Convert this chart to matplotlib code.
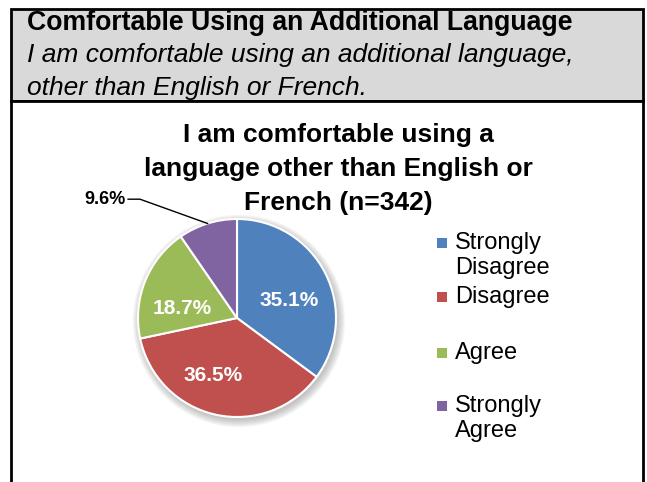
import matplotlib
matplotlib.use("Agg")
import matplotlib.pyplot as plt
from matplotlib.patches import Rectangle, Circle
import numpy as np

plt.rcParams['font.family'] = ['Liberation Sans', 'DejaVu Sans']

categories = ["Strongly\nDisagree", "Disagree", "Agree", "Strongly\nAgree"]
values = [35.1, 36.5, 18.7, 9.6]
colors = ["#4F81BD", "#C0504D", "#9BBB59", "#8064A2"]
header_title = "Comfortable Using an Additional Language"
header_sub = "I am comfortable using an additional language,\nother than English or French."
chart_title = "I am comfortable using a\nlanguage other than English or\nFrench (n=342)"

W, H = 647, 482
fig = plt.figure(figsize=(W / 100, H / 100), dpi=100)

def fx(x):
    return x / W

def fy(y):
    return 1 - y / H

# header box and body box
fig.add_artist(Rectangle((fx(11), fy(101)), fx(643) - fx(11), fy(9) - fy(101),
                         transform=fig.transFigure, facecolor="#D9D9D9",
                         edgecolor="black", linewidth=2, zorder=-2))
fig.add_artist(Rectangle((fx(11), fy(490)), fx(643) - fx(11), fy(101) - fy(490),
                         transform=fig.transFigure, facecolor="white",
                         edgecolor="black", linewidth=2, clip_on=False, zorder=-2))

fig.text(fx(27), fy(23), header_title, fontsize=19.2, fontweight="bold",
         va="center", ha="left")
fig.text(fx(27), fy(55), header_sub.split("\n")[0], fontsize=19, style="italic",
         va="center", ha="left")
fig.text(fx(27), fy(88), header_sub.split("\n")[1], fontsize=19, style="italic",
         va="center", ha="left")

for i, line in enumerate(chart_title.split("\n")):
    fig.text(fx(338), fy(135 + 34 * i), line, fontsize=19, fontweight="bold",
             va="center", ha="center")

# pie
cx, cy, r = 237, 318, 99
ax = fig.add_axes([fx(cx - r), fy(cy + r), 2 * r / W, 2 * r / H])
# soft shadow
for k in range(7):
    ax.add_patch(Circle((0.02, -0.03), 1.0 + 0.012 * k, facecolor="#808080",
                        edgecolor="none", alpha=0.08, zorder=0, clip_on=False))
wedges, _ = ax.pie(values, colors=colors, startangle=90, counterclock=False,
                   radius=1, wedgeprops=dict(edgecolor="white", linewidth=1.5,
                                             zorder=2))
ax.set_xlim(-1, 1)
ax.set_ylim(-1, 1)
ax.set_aspect("auto")
ax.axis("off")

label_angle_shift = [-8, -10, 12]
label_dist = [0.56, 0.63, 0.56]
for i, w in enumerate(wedges):
    mid = np.deg2rad((w.theta1 + w.theta2) / 2)
    if i < 3:
        a = mid + np.deg2rad(label_angle_shift[i])
        ax.text(label_dist[i] * np.cos(a), label_dist[i] * np.sin(a),
                f"{values[i]:.1f}%", color="white", fontsize=15,
                fontweight="bold", ha="center", va="center", zorder=3)
    else:
        ex, ey = np.cos(mid), np.sin(mid)
        ax.plot([ex, -0.98, -1.10], [ey, 1.20, 1.20], color="black",
                linewidth=1, clip_on=False, zorder=3)
        ax.text(-1.12, 1.20, f"{values[i]:.1f}%", color="black", fontsize=13,
                fontweight="bold", ha="right", va="center")

# legend
marker_y = [243, 297, 353, 406]
for lab, col, my in zip(categories, colors, marker_y):
    fig.add_artist(Rectangle((fx(437), fy(my + 5)), 10 / W, 10 / H,
                             transform=fig.transFigure, facecolor=col,
                             edgecolor="none"))
    fig.text(fx(455), fy(my - 11), lab, fontsize=17, va="top", ha="left",
             linespacing=1.2)

fig.savefig("out.png", dpi=100)
